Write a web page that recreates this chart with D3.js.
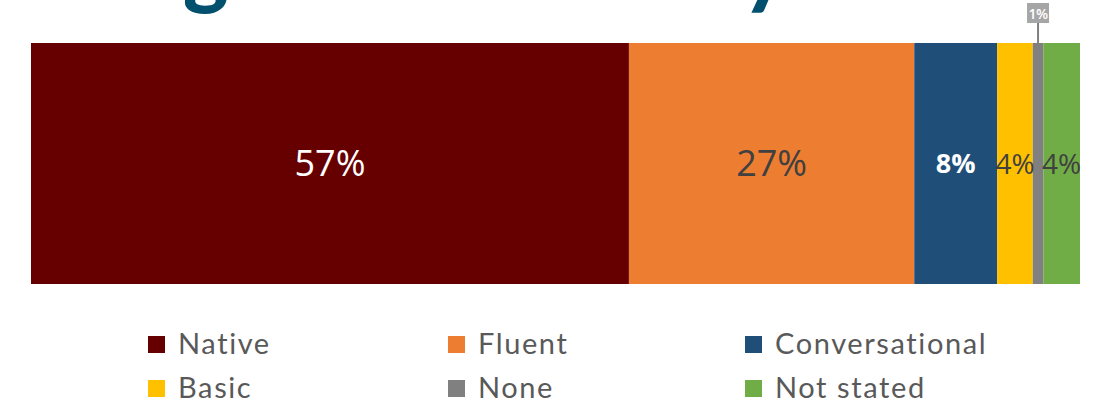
<!DOCTYPE html>
<html><head><meta charset="utf-8">
<script src="https://cdn.jsdelivr.net/npm/d3@7"></script>
<style>html,body{margin:0;padding:0;background:#fff;overflow:hidden}</style>
</head><body>
<svg id="chart" width="1102" height="404"></svg>
<script>
const categories = ["Native", "Fluent", "Conversational", "Basic", "None", "Not stated"];
const values = [57, 27.2, 7.9, 3.4, 1.0, 3.5];
const labels = ["57%", "27%", "8%", "4%", "1%", "4%"];
const colors = ["#660000", "#ED7D31", "#1F4E79", "#FFC000", "#808080", "#70AD47"];
const titleFragments = ["g", "y"];

const svg = d3.select("#chart");
const total = d3.sum(values);
const x = d3.scaleLinear().domain([0, total]).range([31, 1080]);
const y = d3.scaleBand().domain(["all"]).range([43, 284]).padding(0);

// cropped title (only descenders visible)
const titleX = [183, 742];
svg.selectAll("text.title").data(titleFragments).join("text")
  .attr("class", "title")
  .attr("x", (d, i) => titleX[i]).attr("y", -2)
  .attr("font-family", "Lato, sans-serif").attr("font-weight", "900")
  .attr("font-size", 86).attr("fill", "#00506E")
  .text(d => d);

const starts = d3.cumsum([0, ...values.slice(0, -1)]);
const segs = categories.map((c, i) => ({c, v: values[i], s: starts[i], label: labels[i], color: colors[i], i}));

svg.selectAll("rect.seg").data(segs).join("rect")
  .attr("class", "seg")
  .attr("x", d => x(d.s)).attr("y", y("all"))
  .attr("width", d => x(d.s + d.v) - x(d.s)).attr("height", y.bandwidth())
  .attr("fill", d => d.color);

const labelStyle = [
  {fill: "#ffffff", size: 36, weight: "500"},
  {fill: "#404040", size: 36, weight: "500"},
  {fill: "#ffffff", size: 27, weight: "bold"},
  {fill: "#404040", size: 28, weight: "normal"},
  null,
  {fill: "#404040", size: 28, weight: "normal"}
];
const cy = y("all") + y.bandwidth() / 2 - 1;
svg.selectAll("text.lbl").data(segs.filter(d => labelStyle[d.i])).join("text")
  .attr("class", "lbl")
  .attr("x", d => x(d.s + d.v / 2)).attr("y", cy)
  .attr("text-anchor", "middle").attr("dominant-baseline", "central")
  .attr("font-family", "'Open Sans', sans-serif")
  .attr("font-size", d => labelStyle[d.i].size)
  .attr("font-weight", d => labelStyle[d.i].weight)
  .attr("fill", d => labelStyle[d.i].fill)
  .text(d => d.label);

// callout for small segment
const small = segs[4];
const sx = x(small.s + small.v / 2);
svg.append("line").attr("x1", sx).attr("x2", sx).attr("y1", 23).attr("y2", y("all"))
  .attr("stroke", "#808080").attr("stroke-width", 2);
svg.append("rect").attr("x", sx - 11).attr("y", 3).attr("width", 22).attr("height", 20).attr("fill", "#A6A6A6");
svg.append("text").attr("x", sx).attr("y", 13).attr("text-anchor", "middle").attr("dominant-baseline", "central")
  .attr("font-family", "'Open Sans', sans-serif").attr("font-size", 14).attr("font-weight", "600")
  .attr("letter-spacing", -0.5).attr("fill", "#fff").text(small.label);

// legend
const colX = [148, 448, 745];
const rowY = [344, 388];
const leg = svg.selectAll("g.leg").data(segs).join("g").attr("class", "leg")
  .attr("transform", d => `translate(${colX[d.i % 3]},${rowY[Math.floor(d.i / 3)]})`);
leg.append("rect").attr("x", 0).attr("y", -8).attr("width", 17).attr("height", 17).attr("fill", d => d.color);
leg.append("text").attr("x", 30).attr("y", 10)
  .attr("font-family", "Lato, sans-serif").attr("font-size", 29).attr("letter-spacing", 1.6)
  .attr("fill", "#595959")
  .text(d => d.c);
</script>
</body></html>
